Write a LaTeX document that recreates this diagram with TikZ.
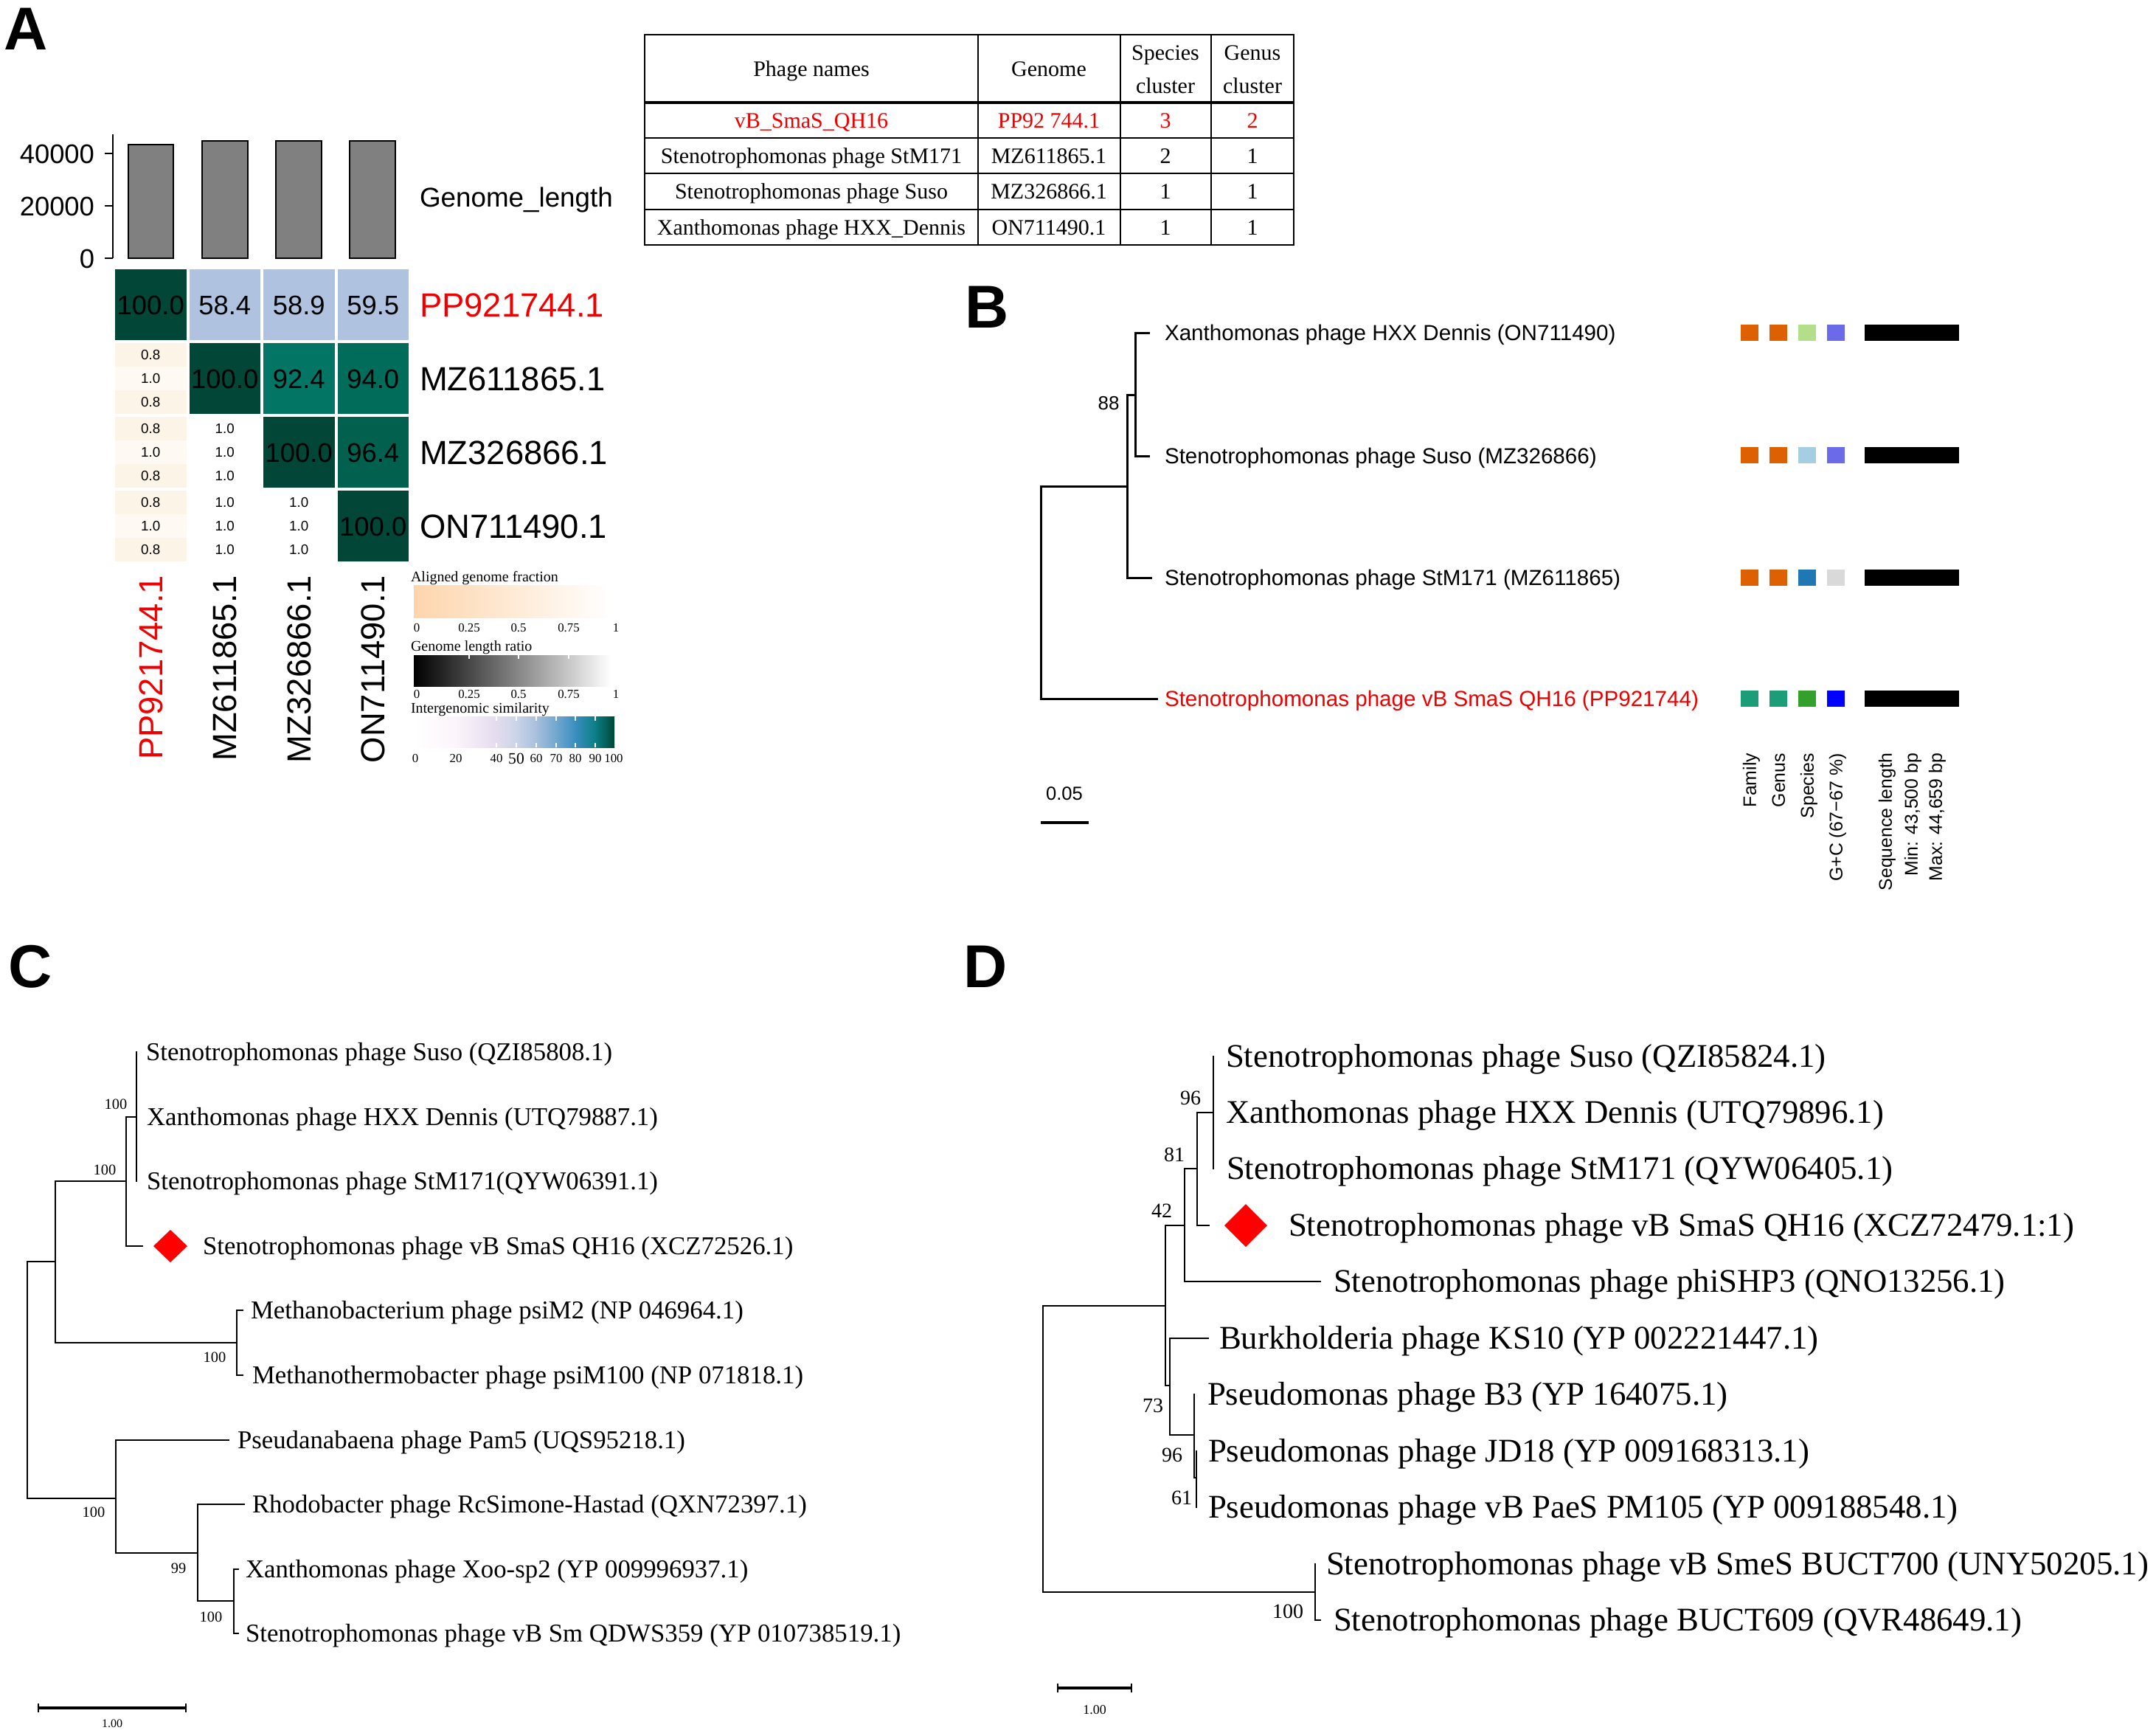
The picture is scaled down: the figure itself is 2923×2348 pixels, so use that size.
\documentclass[tikz,border=0pt]{standalone}
\usepackage{fontspec}
\setmainfont{Liberation Serif}
\newfontfamily\arialf{Liberation Sans}
\newcommand{\fsz}[1]{\fontsize{#1}{#1}\selectfont}
\definecolor{hdark}{HTML}{014636}
\definecolor{hlb}{HTML}{AFC3E1}
\definecolor{ht924}{HTML}{037565}
\definecolor{ht940}{HTML}{016C5A}
\definecolor{ht964}{HTML}{01614E}
\definecolor{cream}{HTML}{FDF4E8}
\definecolor{creaml}{HTML}{FEF9F2}
\definecolor{peach}{HTML}{FDD5AC}
\definecolor{bred}{HTML}{EE0000}
\definecolor{sqor}{HTML}{DD6100}
\definecolor{sqlg}{HTML}{B2DF8A}
\definecolor{sqsb}{HTML}{6B6BEA}
\definecolor{sqlb}{HTML}{A6CEE3}
\definecolor{sqbl}{HTML}{1F78B4}
\definecolor{sqgy}{HTML}{D9D9D9}
\definecolor{sqte}{HTML}{1B9E77}
\definecolor{sqgr}{HTML}{33A02C}
\definecolor{sqbb}{HTML}{0000FF}
\definecolor{g20}{HTML}{FCF4FA}
\definecolor{g40}{HTML}{E4DCEE}
\definecolor{g50}{HTML}{CAD4E9}
\definecolor{g60}{HTML}{A8BFDD}
\definecolor{g70}{HTML}{72A7CF}
\definecolor{g80}{HTML}{3A8EBF}
\definecolor{g90}{HTML}{0B7E86}
\begin{document}
\begin{tikzpicture}[x=0.25pt,y=-0.25pt,
  every node/.style={inner sep=0pt,outer sep=0pt},
  panel/.style={font=\arialf\bfseries\fsz{20.5pt},anchor=base west},
  ax/.style={font=\arialf\fsz{9.1pt},anchor=east,text height=6.5pt,text depth=0pt},
  rowl/.style={font=\arialf\fsz{11.35pt},anchor=west,text height=8.1pt,text depth=0pt},
  coll/.style={font=\arialf\fsz{11.35pt},anchor=east,rotate=90,text height=8.1pt,text depth=0pt},
  cellv/.style={font=\arialf\fsz{9.1pt},text height=6.5pt,text depth=0pt},
  smallv/.style={font=\arialf\fsz{4.7pt},text height=3.4pt,text depth=0pt},
  legt/.style={font=\fsz{5pt},anchor=west,text height=3.3pt,text depth=0pt},
  legk/.style={font=\fsz{4.2pt},text height=2.85pt,text depth=0pt},
  tab/.style={font=\fsz{7.5pt},text height=5pt,text depth=0pt},
  bl/.style={font=\arialf\fsz{7.4pt},anchor=west,text height=5.3pt,text depth=0pt},
  bboot/.style={font=\arialf\fsz{6.5pt},text height=4.6pt,text depth=0pt},
  brot/.style={font=\arialf\fsz{6.2pt},anchor=east,rotate=90,text height=4.4pt,text depth=0pt},
  cl/.style={font=\fsz{8.7pt},anchor=west,text height=5.8pt,text depth=0pt},
  cb/.style={font=\fsz{5.1pt},text height=3.45pt,text depth=0pt},
  dl/.style={font=\fsz{11.2pt},anchor=west,text height=7.4pt,text depth=0pt},
  db/.style={font=\fsz{7pt},text height=4.7pt,text depth=0pt},
  scl/.style={font=\fsz{4pt},text height=2.7pt,text depth=0pt},
  tb/.style={line width=0.75pt,line cap=rect},
  tc/.style={line width=0.45pt,line cap=rect},
  bar/.style={fill=gray!100!white,fill=black!50,draw=black,line width=0.7pt},
  tabl/.style={line width=0.7pt}
]
\useasboundingbox (0,0) rectangle (2923,2348);

% ================= Panel labels
\node[panel] (lA) at (6,67) {A};
\node[panel] (lB) at (1308,444) {B};
\node[panel] (lC) at (11,1338) {C};
\node[panel] (lD) at (1306,1338) {D};

% ================= Panel A : bar plot
\draw[line width=0.6pt] (153,182) -- (153,350);
\foreach \yy/\tt [count=\i] in {208/40000,279/20000,350/0}{
  \draw[line width=0.6pt] (142,\yy) -- (153,\yy);
  \node[ax] (yt\i) at (128,\yy) {\tt};
}
\draw[bar] (174,350) rectangle (235,196);
\draw[bar] (274,350) rectangle (336,191);
\draw[bar] (374,350) rectangle (436,191);
\draw[bar] (474,350) rectangle (536,191);
\node[font=\arialf\fsz{9.2pt},anchor=west,text height=6.6pt,text depth=0pt] (glen) at (569,267) {Genome\_length};

% ================= Panel A : heatmap
% upper triangle
\fill[hdark] (156,365) rectangle +(96.5,96);
\fill[hlb] (256.5,365) rectangle +(96.5,96);
\fill[hlb] (357,365) rectangle +(96.5,96);
\fill[hlb] (457.5,365) rectangle +(96.5,96);
\fill[hdark] (256.5,465) rectangle +(96.5,96);
\fill[ht924] (357,465) rectangle +(96.5,96);
\fill[ht940] (457.5,465) rectangle +(96.5,96);
\fill[hdark] (357,565) rectangle +(96.5,96);
\fill[ht964] (457.5,565) rectangle +(96.5,96);
\fill[hdark] (457.5,665) rectangle +(96.5,96);
\node[cellv] (h11) at (204.25,413) {100.0};
\node[cellv] (h12) at (304.75,413) {58.4};
\node[cellv] (h13) at (405.25,413) {58.9};
\node[cellv] (h14) at (505.75,413) {59.5};
\node[cellv] (h22) at (304.75,513) {100.0};
\node[cellv] (h23) at (405.25,513) {92.4};
\node[cellv] (h24) at (505.75,513) {94.0};
\node[cellv] (h33) at (405.25,613) {100.0};
\node[cellv] (h34) at (505.75,613) {96.4};
\node[cellv] (h44) at (505.75,713) {100.0};
% lower triangle, column 1 background
\foreach \ry in {465,565,665}{
  \fill[cream] (156,\ry) rectangle +(96.5,32);
  \fill[creaml] (156,\ry+32) rectangle +(96.5,32);
  \fill[cream] (156,\ry+64) rectangle +(96.5,32);
}
\foreach \ry [count=\i] in {481,581,681}{
  \node[smallv] (a\i) at (204.25,\ry) {0.8};
  \node[smallv] (b\i) at (204.25,\ry+32) {1.0};
  \node[smallv] (c\i) at (204.25,\ry+64) {0.8};
}
\foreach \ry [count=\i] in {581,681}{
  \node[smallv] (d\i) at (304.75,\ry) {1.0};
  \node[smallv] (e\i) at (304.75,\ry+32) {1.0};
  \node[smallv] (f\i) at (304.75,\ry+64) {1.0};
}
\node[smallv] (g1) at (405.25,681) {1.0};
\node[smallv] (g2) at (405.25,713) {1.0};
\node[smallv] (g3) at (405.25,745) {1.0};
% row labels
\node[rowl,text=bred] (r1) at (569,413) {PP921744.1};
\node[rowl] (r2) at (569,513) {MZ611865.1};
\node[rowl] (r3) at (569,613) {MZ326866.1};
\node[rowl] (r4) at (569,713) {ON711490.1};
% column labels
\node[coll,text=bred] (k1) at (204.25,780) {PP921744.1};
\node[coll] (k2) at (304.75,780) {MZ611865.1};
\node[coll] (k3) at (405.25,780) {MZ326866.1};
\node[coll] (k4) at (505.75,780) {ON711490.1};

% ================= Panel A : legends
\node[legt] (lt1) at (557,782) {Aligned genome fraction};
\shade[left color=peach,right color=white] (561,793) rectangle (828,837);
\fill[white] (828,793) rectangle (835,837);
\foreach \xx/\tt [count=\i] in {565/0,636/0.25,703/0.5,771/0.75,835/1}{
  \node[legk] (la\i) at (\xx,851) {\tt};
}
\node[legt] (lt2) at (557,876) {Genome length ratio};
\shade[left color=black,right color=white] (561,888) rectangle (828,930);
\foreach \xx in {636,703,771}{
  \draw[white,line width=0.4pt] (\xx,888) -- (\xx,893);
}
\foreach \xx/\tt [count=\i] in {565/0,636/0.25,703/0.5,771/0.75,835/1}{
  \node[legk] (lb\i) at (\xx,941) {\tt};
}
\node[legt] (lt3) at (557,960) {Intergenomic similarity};
\shade[left color=white,right color=g20] (561,971) rectangle (618,1013);
\shade[left color=g20,right color=g40] (618,971) rectangle (673,1013);
\shade[left color=g40,right color=g50] (673,971) rectangle (700,1013);
\shade[left color=g50,right color=g60] (700,971) rectangle (727,1013);
\shade[left color=g60,right color=g70] (727,971) rectangle (754,1013);
\shade[left color=g70,right color=g80] (754,971) rectangle (780,1013);
\shade[left color=g80,right color=g90] (780,971) rectangle (807,1013);
\shade[left color=g90,right color=hdark] (807,971) rectangle (833,1013);
\foreach \xx in {673,700,727,754,780,807}{
  \draw[white,line width=0.4pt] (\xx,971) -- (\xx,977);
  \draw[white,line width=0.4pt] (\xx,1007) -- (\xx,1013);
}
\foreach \xx/\tt [count=\i] in {563/0,618/20,673/40,727/60,754/70,780/80,807/90,832/100}{
  \node[legk] (lc\i) at (\xx,1028) {\tt};
}
\node[font=\fsz{5.4pt},text height=3.65pt,text depth=0pt] (lc50) at (700,1028) {50};

% ================= Panel A : table
\draw[tabl] (874,47) rectangle (1754,332);
\foreach \xx in {1326,1519,1642}{ \draw[tabl] (\xx,47) -- (\xx,332); }
\draw[line width=0.9pt] (874,139) -- (1754,139);
\foreach \yy in {187,235,284}{ \draw[tabl] (874,\yy) -- (1754,\yy); }
\node[tab] (t01) at (1100,93) {Phage names};
\node[tab] (t02) at (1422,93) {Genome};
\node[tab] (t03) at (1580,71) {Species};
\node[tab] (t03b) at (1580,116) {cluster};
\node[tab] (t04) at (1698,71) {Genus};
\node[tab] (t04b) at (1698,116) {cluster};
\node[tab,text=bred] (t11) at (1100,163) {vB\_SmaS\_QH16};
\node[tab,text=bred] (t12) at (1422,163) {PP92 744.1};
\node[tab,text=bred] (t13) at (1580,163) {3};
\node[tab,text=bred] (t14) at (1698,163) {2};
\node[tab] (t21) at (1100,211) {Stenotrophomonas phage StM171};
\node[tab] (t22) at (1422,211) {MZ611865.1};
\node[tab] (t23) at (1580,211) {2};
\node[tab] (t24) at (1698,211) {1};
\node[tab] (t31) at (1100,259) {Stenotrophomonas phage Suso};
\node[tab] (t32) at (1422,259) {MZ326866.1};
\node[tab] (t33) at (1580,259) {1};
\node[tab] (t34) at (1698,259) {1};
\node[tab] (t41) at (1100,308) {Xanthomonas phage HXX\_Dennis};
\node[tab] (t42) at (1422,308) {ON711490.1};
\node[tab] (t43) at (1580,308) {1};
\node[tab] (t44) at (1698,308) {1};

% ================= Panel B : tree
\draw[tb] (1411,659) -- (1411,947);
\draw[tb] (1411,659) -- (1528,659);
\draw[tb] (1411,947) -- (1568,947);
\draw[tb] (1528,535) -- (1528,783);
\draw[tb] (1528,783) -- (1560,783);
\draw[tb] (1528,535) -- (1539,535);
\draw[tb] (1539,451) -- (1539,618);
\draw[tb] (1539,451) -- (1557,451);
\draw[tb] (1539,618) -- (1557,618);
\node[bboot] (b88) at (1503,546) {88};
\node[bl] (bn1) at (1579,451) {Xanthomonas phage HXX Dennis (ON711490)};
\node[bl] (bn2) at (1579,618) {Stenotrophomonas phage Suso (MZ326866)};
\node[bl] (bn3) at (1579,783) {Stenotrophomonas phage StM171 (MZ611865)};
\node[bl,text=bred] (bn4) at (1579,947) {Stenotrophomonas phage vB SmaS QH16 (PP921744)};
% squares
\foreach \yy/\ca/\cb/\cc/\cd in {451/sqor/sqor/sqlg/sqsb, 617/sqor/sqor/sqlb/sqsb, 783/sqor/sqor/sqbl/sqgy, 947/sqte/sqte/sqgr/sqbb}{
  \fill[\ca] (2360,\yy-11) rectangle +(24,22);
  \fill[\cb] (2399,\yy-11) rectangle +(24,22);
  \fill[\cc] (2438,\yy-11) rectangle +(24,22);
  \fill[\cd] (2477,\yy-11) rectangle +(24,22);
  \fill[black] (2528,\yy-11) rectangle +(128,22);
}
\node[brot] (bf1) at (2372,1021) {Family};
\node[brot] (bf2) at (2411,1021) {Genus};
\node[brot] (bf3) at (2450,1021) {Species};
\node[brot] (bf4) at (2489,1021) {G+C (67−67 \%)};
\node[brot] (bf5) at (2556,1021) {Sequence length};
\node[brot] (bf6) at (2591,1021) {Min: 43,500 bp};
\node[brot] (bf7) at (2624,1021) {Max: 44,659 bp};
\draw[line width=1.2pt] (1411,1115) -- (1476,1115);
\node[font=\arialf\fsz{6.4pt},text height=4.6pt,text depth=0pt] (bsc) at (1443,1075) {0.05};

% ================= Panel C : tree
\draw[tc] (185,1426) -- (185,1601);
\draw[tc] (171,1514) -- (185,1514);
\draw[tc] (171,1514) -- (171,1689);
\draw[tc] (171,1689) -- (193,1689);
\draw[tc] (75,1601) -- (171,1601);
\draw[tc] (75,1601) -- (75,1820);
\draw[tc] (75,1820) -- (321,1820);
\draw[tc] (321,1776) -- (321,1864);
\draw[tc] (321,1776) -- (329,1776);
\draw[tc] (321,1864) -- (329,1864);
\draw[tc] (37,1710) -- (75,1710);
\draw[tc] (37,1710) -- (37,2031);
\draw[tc] (37,2031) -- (157,2031);
\draw[tc] (157,1952) -- (157,2105);
\draw[tc] (157,1952) -- (310,1952);
\draw[tc] (157,2105) -- (268,2105);
\draw[tc] (268,2039) -- (268,2170);
\draw[tc] (268,2039) -- (331,2039);
\draw[tc] (268,2170) -- (317,2170);
\draw[tc] (317,2127) -- (317,2214);
\draw[tc] (317,2127) -- (323,2127);
\draw[tc] (317,2214) -- (323,2214);
\fill[red] (208,1689) -- (231,1667) -- (254,1689) -- (231,1711) -- cycle;
\node[cb] (cb1) at (157,1497) {100};
\node[cb] (cb2) at (142,1586) {100};
\node[cb] (cb3) at (291,1840) {100};
\node[cb] (cb4) at (127,2050) {100};
\node[cb] (cb5) at (242,2126) {99};
\node[cb] (cb6) at (286,2192) {100};
\node[cl] (cn1) at (198,1426) {Stenotrophomonas phage Suso (QZI85808.1)};
\node[cl] (cn2) at (199,1514) {Xanthomonas phage HXX Dennis (UTQ79887.1)};
\node[cl] (cn3) at (199,1601) {Stenotrophomonas phage StM171(QYW06391.1)};
\node[cl] (cn4) at (275,1689) {Stenotrophomonas phage vB SmaS QH16 (XCZ72526.1)};
\node[cl] (cn5) at (340,1776) {Methanobacterium phage psiM2 (NP 046964.1)};
\node[cl] (cn6) at (342,1864) {Methanothermobacter phage psiM100 (NP 071818.1)};
\node[cl] (cn7) at (322,1952) {Pseudanabaena phage Pam5 (UQS95218.1)};
\node[cl] (cn8) at (342,2039) {Rhodobacter phage RcSimone-Hastad (QXN72397.1)};
\node[cl] (cn9) at (333,2127) {Xanthomonas phage Xoo-sp2 (YP 009996937.1)};
\node[cl] (cn10) at (333,2214) {Stenotrophomonas phage vB Sm QDWS359 (YP 010738519.1)};
\draw[line width=1pt] (52,2315) -- (252,2315);
\draw[line width=0.5pt] (52,2309) -- (52,2321);
\draw[line width=0.5pt] (252,2309) -- (252,2321);
\node[scl] (csc) at (152,2336) {1.00};

% ================= Panel D : tree
\draw[tc] (1645,1432) -- (1645,1584);
\draw[tc] (1623,1508) -- (1645,1508);
\draw[tc] (1623,1508) -- (1623,1661);
\draw[tc] (1623,1661) -- (1639,1661);
\draw[tc] (1606,1584) -- (1623,1584);
\draw[tc] (1606,1584) -- (1606,1737);
\draw[tc] (1606,1737) -- (1790,1737);
\draw[tc] (1580,1661) -- (1606,1661);
\draw[tc] (1580,1661) -- (1580,1878);
\draw[tc] (1580,1878) -- (1586,1878);
\draw[tc] (1586,1814) -- (1586,1945);
\draw[tc] (1586,1814) -- (1638,1814);
\draw[tc] (1586,1945) -- (1619,1945);
\draw[tc] (1619,1890) -- (1619,2003);
\draw[tc] (1619,2003) -- (1622,2003);
\draw[tc] (1622,1967) -- (1622,2043);
\draw[tc] (1414,1770) -- (1580,1770);
\draw[tc] (1414,1770) -- (1414,2158);
\draw[tc] (1414,2158) -- (1783,2158);
\draw[tc] (1783,2120) -- (1783,2196);
\draw[tc] (1783,2196) -- (1790,2196);
\fill[red] (1660,1661) -- (1689,1632) -- (1718,1661) -- (1689,1690) -- cycle;
\node[db] (db1) at (1614,1488) {96};
\node[db] (db2) at (1592,1565) {81};
\node[db] (db3) at (1575,1641) {42};
\node[db] (db4) at (1563,1905) {73};
\node[db] (db5) at (1589,1972) {96};
\node[db] (db6) at (1602,2030) {61};
\node[db] (db7) at (1746,2184) {100};
\node[dl] (dn1) at (1662,1432) {Stenotrophomonas phage Suso (QZI85824.1)};
\node[dl] (dn2) at (1662,1508) {Xanthomonas phage HXX Dennis (UTQ79896.1)};
\node[dl] (dn3) at (1663,1584) {Stenotrophomonas phage StM171 (QYW06405.1)};
\node[dl] (dn4) at (1747,1661) {Stenotrophomonas phage vB SmaS QH16 (XCZ72479.1:1)};
\node[dl] (dn5) at (1808,1737) {Stenotrophomonas phage phiSHP3 (QNO13256.1)};
\node[dl] (dn6) at (1653,1814) {Burkholderia phage KS10 (YP 002221447.1)};
\node[dl] (dn7) at (1637,1890) {Pseudomonas phage B3 (YP 164075.1)};
\node[dl] (dn8) at (1638,1967) {Pseudomonas phage JD18 (YP 009168313.1)};
\node[dl] (dn9) at (1638,2043) {Pseudomonas phage vB PaeS PM105 (YP 009188548.1)};
\node[dl] (dn10) at (1798,2120) {Stenotrophomonas phage vB SmeS BUCT700 (UNY50205.1)};
\node[dl] (dn11) at (1808,2196) {Stenotrophomonas phage BUCT609 (QVR48649.1)};
\draw[line width=1pt] (1434,2288) -- (1534,2288);
\draw[line width=0.5pt] (1434,2282) -- (1434,2294);
\draw[line width=0.5pt] (1534,2282) -- (1534,2294);
\node[font=\fsz{4.5pt},text height=3pt,text depth=0pt] (dsc) at (1484,2317) {1.00};
\end{tikzpicture}
\end{document}
